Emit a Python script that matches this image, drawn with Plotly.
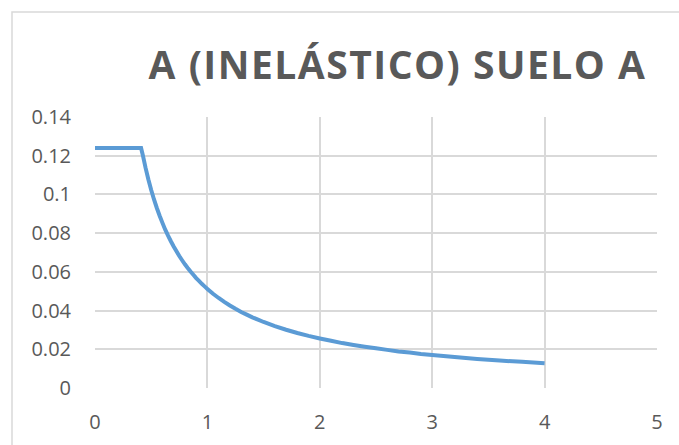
import plotly.graph_objects as go

periods = [0.0, 0.1, 0.2, 0.3, 0.41, 0.425, 0.45, 0.475, 0.5, 0.525, 0.55, 0.575, 0.6, 0.625,
           0.65, 0.675, 0.7, 0.725, 0.75, 0.775, 0.8, 0.825, 0.85, 0.875, 0.9, 0.925, 0.95,
           0.975, 1.0, 1.05, 1.1, 1.15, 1.2, 1.25, 1.3, 1.35, 1.4, 1.45, 1.5, 1.6, 1.7, 1.8,
           1.9, 2.0, 2.1, 2.2, 2.3, 2.4, 2.5, 2.6, 2.7, 2.8, 2.9, 3.0, 3.2, 3.4, 3.6, 3.8, 4.0]
sa_values = [0.124, 0.124, 0.124, 0.124, 0.124, 0.1204, 0.1137, 0.1077, 0.1023, 0.0974, 0.0930,
             0.0890, 0.0853, 0.0818, 0.0787, 0.0758, 0.0731, 0.0706, 0.0682, 0.0660, 0.0639,
             0.0620, 0.0602, 0.0585, 0.0568, 0.0553, 0.0538, 0.0525, 0.0512, 0.0487, 0.0465,
             0.0445, 0.0426, 0.0409, 0.0393, 0.0379, 0.0365, 0.0353, 0.0341, 0.0320, 0.0301,
             0.0284, 0.0269, 0.0256, 0.0244, 0.0232, 0.0222, 0.0213, 0.0205, 0.0197, 0.0189,
             0.0183, 0.0176, 0.0171, 0.0160, 0.0150, 0.0142, 0.0135, 0.0128]
x_ticks = [0, 1, 2, 3, 4, 5]
y_ticks = [0, 0.02, 0.04, 0.06, 0.08, 0.1, 0.12, 0.14]
y_tick_labels = ["0", "0.02", "0.04", "0.06", "0.08", "0.1", "0.12", "0.14"]
title_text = "A (INELÁSTICO) SUELO A"

fig = go.Figure()
fig.add_trace(go.Scatter(x=periods, y=sa_values, mode="lines",
                         line=dict(color="#5b9bd5", width=4, simplify=False), showlegend=False,
                         hoverinfo="x+y"))

font_family = "Open Sans"
tick_font = dict(family=font_family, size=20, color="#595959")

fig.update_layout(
    width=679, height=445,
    margin=dict(l=95, r=22, t=117, b=57, autoexpand=False),
    paper_bgcolor="white", plot_bgcolor="white",
    title=dict(text=f'<span style="letter-spacing:1.5px">{title_text}</span>',
               x=397.5 / 679, xanchor="center", xref="container",
               y=1 - 65 / 445, yanchor="middle", yref="container", automargin=False,
               font=dict(family=font_family, size=39, color="#595959", weight="bold")),
    xaxis=dict(range=[0, 5], tickvals=x_ticks, ticktext=[str(v) for v in x_ticks],
               showgrid=True, gridcolor="#d9d9d9", gridwidth=1.5, automargin=False,
               zeroline=False, showline=False, ticks="", tickfont=tick_font,
               ticklabelstandoff=20, fixedrange=True),
    yaxis=dict(range=[0, 0.14], tickvals=y_ticks, ticktext=y_tick_labels,
               showgrid=True, gridcolor="#d9d9d9", gridwidth=1.5, automargin=False,
               zeroline=False, showline=False, ticks="", tickfont=tick_font,
               ticklabelstandoff=23, fixedrange=True),
)
# outer chart border (starts at x=12, y=12 and runs past the right/bottom edges)
fig.add_shape(type="rect", xref="paper", yref="paper",
              x0=(12 - 95) / 562, x1=(700 - 95) / 562,
              y0=(388 - 470) / 271, y1=(388 - 12) / 271,
              line=dict(color="#d9d9d9", width=1.5), fillcolor="rgba(0,0,0,0)", layer="below")

fig.write_html("out.html", config={"displayModeBar": False},
               post_script="document.body.style.margin='0';document.body.style.overflow='hidden';")
